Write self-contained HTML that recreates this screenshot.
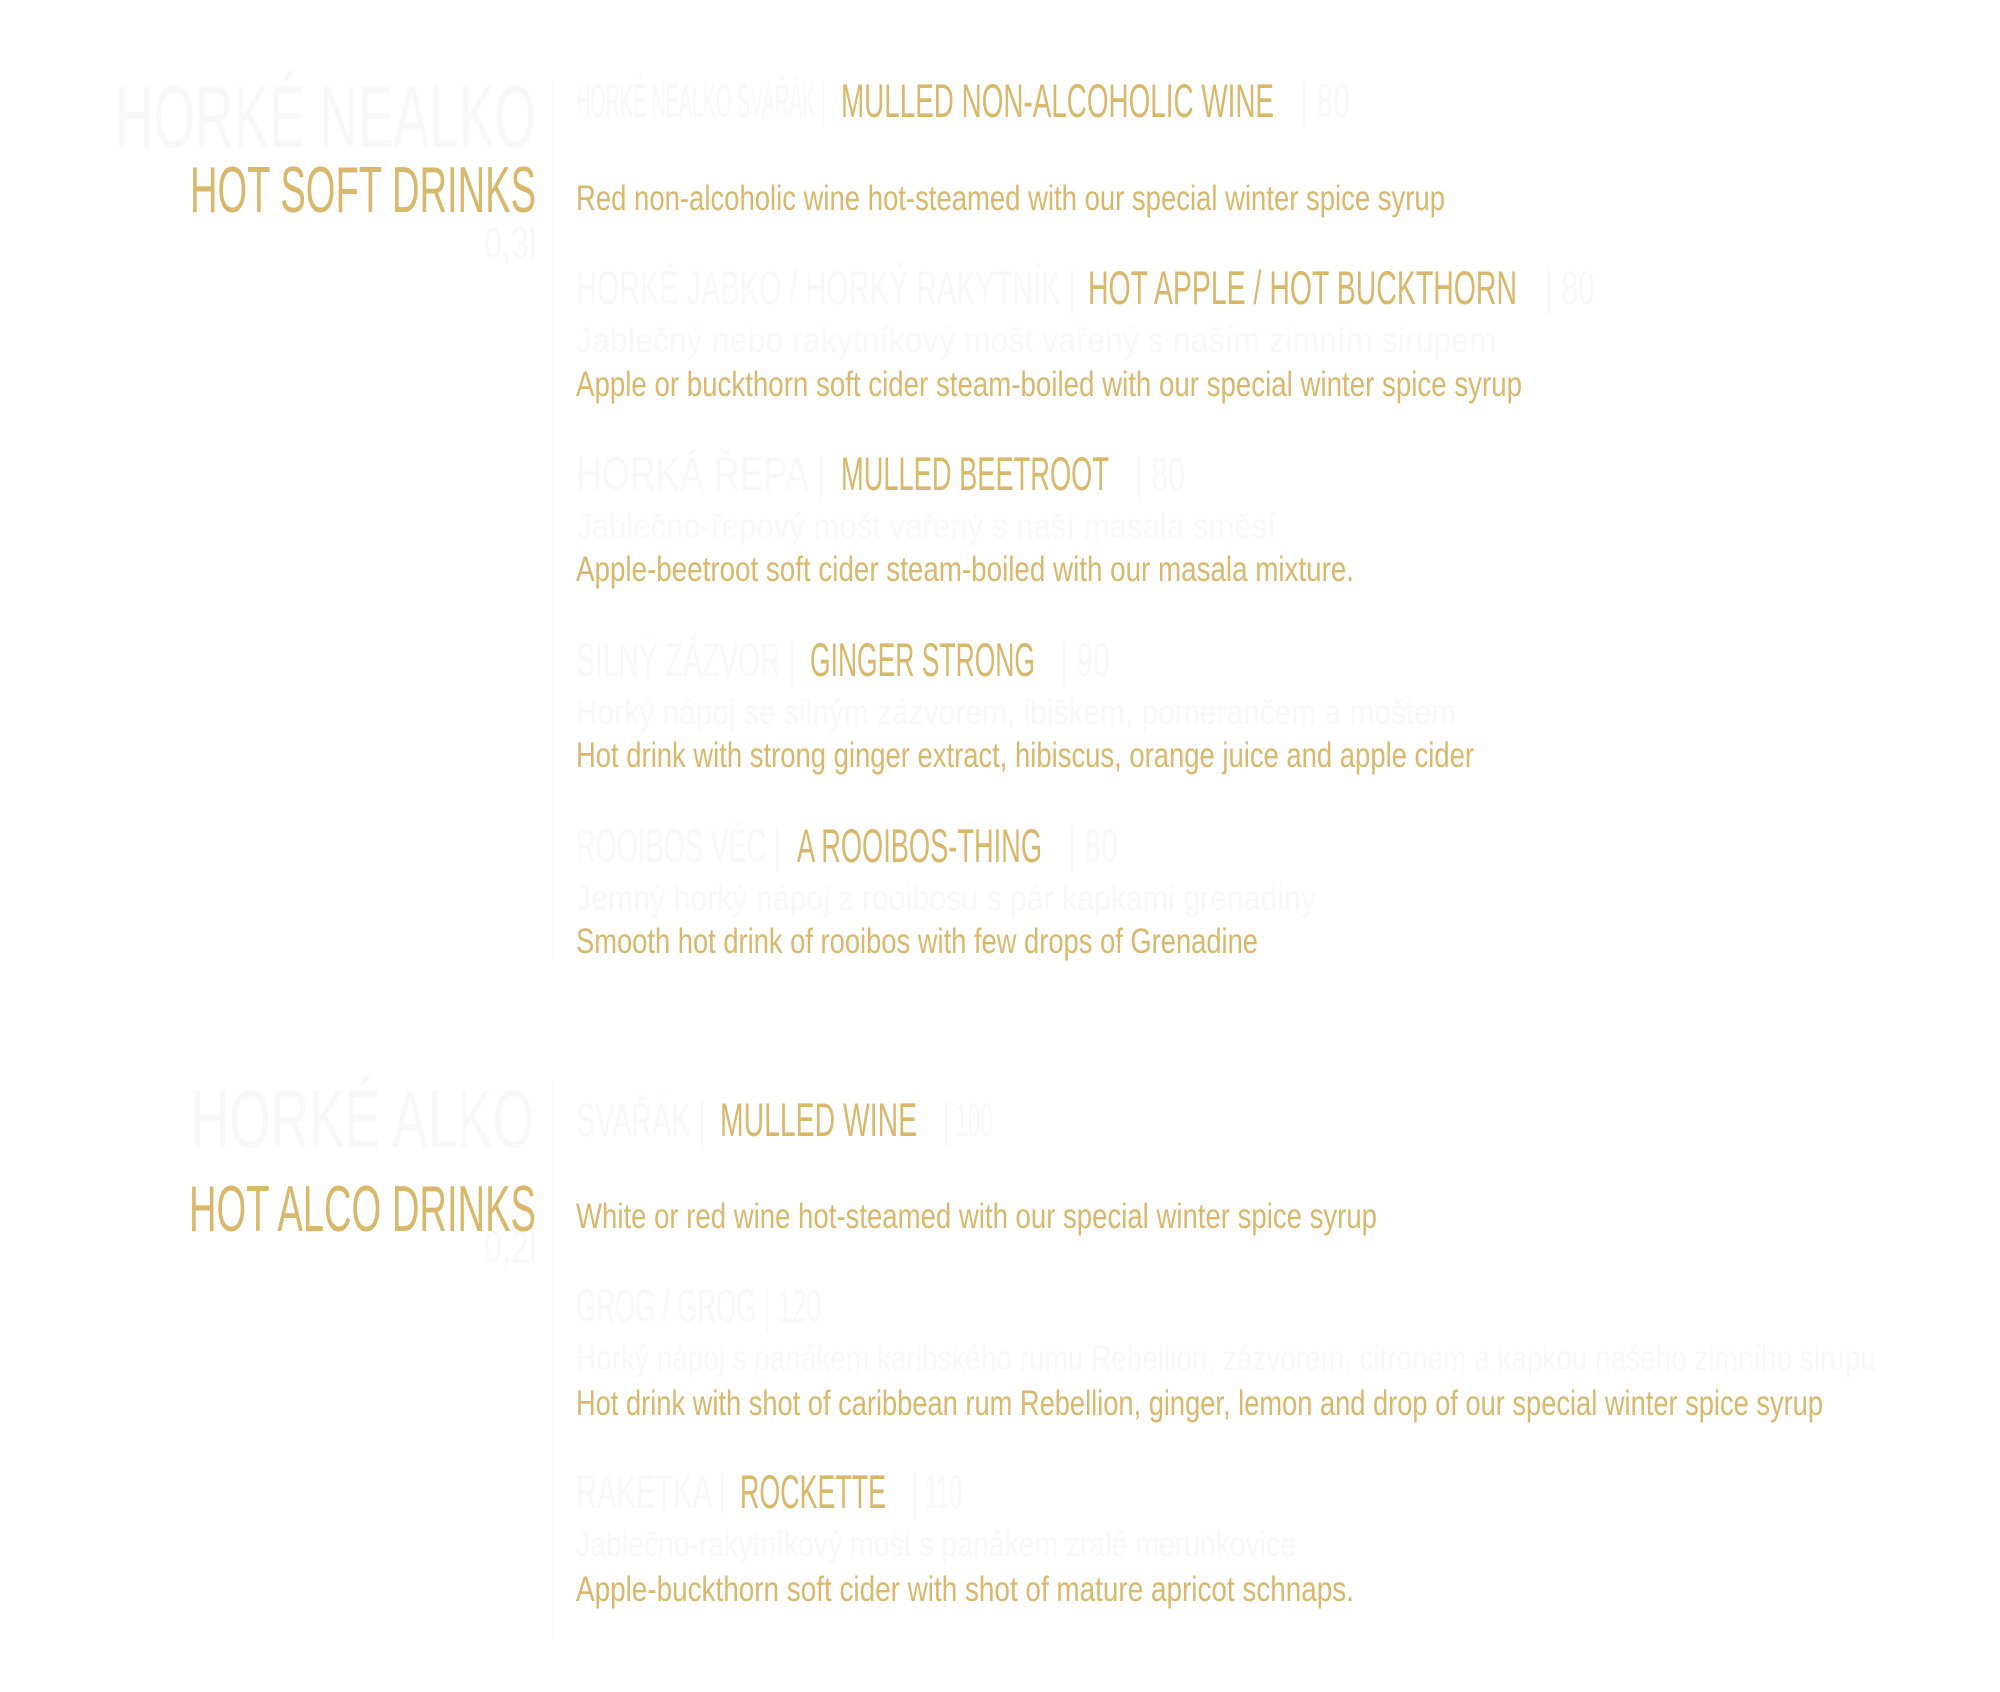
<!DOCTYPE html>
<html><head><meta charset="utf-8"><style>
html,body{margin:0;padding:0;background:#fff;}
svg{display:block}
text{font-family:"Liberation Sans Narrow","Liberation Sans",sans-serif;}
.g{fill:#d9b76b}
.f{fill:#f8f8f8}
</style></head><body>
<svg width="2000" height="1692" viewBox="0 0 2000 1692" xmlns="http://www.w3.org/2000/svg">
<text class="f" x="115" y="147" font-size="88" textLength="421" lengthAdjust="spacingAndGlyphs">HORKÉ NEALKO</text>
<text class="g" x="190" y="212" font-size="65" textLength="346" lengthAdjust="spacingAndGlyphs">HOT SOFT DRINKS</text>
<text class="f" x="484" y="258" font-size="44" textLength="52" lengthAdjust="spacingAndGlyphs">0,3l</text>
<rect x="552" y="80" width="2" height="880" fill="#fafafa"/>

<text class="f" x="576" y="117" font-size="47" textLength="250" lengthAdjust="spacingAndGlyphs">HORKÉ NEALKO SVAŘÁK |</text>
<text class="g" x="841" y="117" font-size="47" textLength="433" lengthAdjust="spacingAndGlyphs">MULLED NON-ALCOHOLIC WINE</text>
<text class="f" x="1300" y="117" font-size="47" textLength="50" lengthAdjust="spacingAndGlyphs">| 80</text>
<text class="g" x="576" y="210" font-size="35" textLength="869" lengthAdjust="spacingAndGlyphs">Red non-alcoholic wine hot-steamed with our special winter spice syrup</text>

<text class="f" x="576" y="304" font-size="47" textLength="500" lengthAdjust="spacingAndGlyphs">HORKÉ JABKO / HORKÝ RAKYTNÍK |</text>
<text class="g" x="1088" y="304" font-size="47" textLength="429" lengthAdjust="spacingAndGlyphs">HOT APPLE / HOT BUCKTHORN</text>
<text class="f" x="1545" y="304" font-size="47" textLength="50" lengthAdjust="spacingAndGlyphs">| 80</text>
<text class="f" x="576" y="352" font-size="35" textLength="920" lengthAdjust="spacingAndGlyphs">Jablečný nebo rakytníkový mošt vařený s naším zimním sirupem</text>
<text class="g" x="576" y="396" font-size="35" textLength="946" lengthAdjust="spacingAndGlyphs">Apple or buckthorn soft cider steam-boiled with our special winter spice syrup</text>

<text class="f" x="576" y="490" font-size="47" textLength="250" lengthAdjust="spacingAndGlyphs">HORKÁ ŘEPA |</text>
<text class="g" x="841" y="490" font-size="47" textLength="268" lengthAdjust="spacingAndGlyphs">MULLED BEETROOT</text>
<text class="f" x="1135" y="490" font-size="47" textLength="50" lengthAdjust="spacingAndGlyphs">| 80</text>
<text class="f" x="576" y="538" font-size="35" textLength="700" lengthAdjust="spacingAndGlyphs">Jablečno-řepový mošt vařený s naší masala směsí</text>
<text class="g" x="576" y="581" font-size="35" textLength="778" lengthAdjust="spacingAndGlyphs">Apple-beetroot soft cider steam-boiled with our masala mixture.</text>

<text class="f" x="576" y="676" font-size="47" textLength="220" lengthAdjust="spacingAndGlyphs">SILNÝ ZÁZVOR |</text>
<text class="g" x="810" y="676" font-size="47" textLength="225" lengthAdjust="spacingAndGlyphs">GINGER STRONG</text>
<text class="f" x="1060" y="676" font-size="47" textLength="50" lengthAdjust="spacingAndGlyphs">| 90</text>
<text class="f" x="576" y="724" font-size="35" textLength="880" lengthAdjust="spacingAndGlyphs">Horký nápoj se silným zázvorem, ibiškem, pomerančem a moštem</text>
<text class="g" x="576" y="767" font-size="35" textLength="898" lengthAdjust="spacingAndGlyphs">Hot drink with strong ginger extract, hibiscus, orange juice and apple cider</text>

<text class="f" x="576" y="862" font-size="47" textLength="205" lengthAdjust="spacingAndGlyphs">ROOIBOS VĚC |</text>
<text class="g" x="797" y="862" font-size="47" textLength="245" lengthAdjust="spacingAndGlyphs">A ROOIBOS-THING</text>
<text class="f" x="1068" y="862" font-size="47" textLength="50" lengthAdjust="spacingAndGlyphs">| 80</text>
<text class="f" x="576" y="910" font-size="35" textLength="740" lengthAdjust="spacingAndGlyphs">Jemný horký nápoj z rooibosu s pár kapkami grenadiny</text>
<text class="g" x="576" y="953" font-size="35" textLength="682" lengthAdjust="spacingAndGlyphs">Smooth hot drink of rooibos with few drops of Grenadine</text>

<text class="f" x="191" y="1147" font-size="82" textLength="343" lengthAdjust="spacingAndGlyphs">HORKÉ ALKO</text>
<text class="g" x="189" y="1231" font-size="65" textLength="347" lengthAdjust="spacingAndGlyphs">HOT ALCO DRINKS</text>
<text class="f" x="484" y="1262" font-size="44" textLength="52" lengthAdjust="spacingAndGlyphs">0,2l</text>
<rect x="552" y="1080" width="2" height="560" fill="#fafafa"/>

<text class="f" x="576" y="1136" font-size="47" textLength="130" lengthAdjust="spacingAndGlyphs">SVAŘÁK |</text>
<text class="g" x="720" y="1136" font-size="47" textLength="197" lengthAdjust="spacingAndGlyphs">MULLED WINE</text>
<text class="f" x="943" y="1136" font-size="47" textLength="50" lengthAdjust="spacingAndGlyphs">| 100</text>
<text class="g" x="576" y="1228" font-size="35" textLength="801" lengthAdjust="spacingAndGlyphs">White or red wine hot-steamed with our special winter spice syrup</text>

<text class="f" x="576" y="1322" font-size="47" textLength="245" lengthAdjust="spacingAndGlyphs">GROG / GROG | 120</text>
<text class="f" x="576" y="1370" font-size="35" textLength="1300" lengthAdjust="spacingAndGlyphs">Horký nápoj s panákem karibského rumu Rebellion, zázvorem, citronem a kapkou našeho zimního sirupu</text>
<text class="g" x="576" y="1415" font-size="35" textLength="1247" lengthAdjust="spacingAndGlyphs">Hot drink with shot of caribbean rum Rebellion, ginger, lemon and drop of our special winter spice syrup</text>

<text class="f" x="576" y="1508" font-size="47" textLength="150" lengthAdjust="spacingAndGlyphs">RAKETKA |</text>
<text class="g" x="740" y="1508" font-size="47" textLength="146" lengthAdjust="spacingAndGlyphs">ROCKETTE</text>
<text class="f" x="912" y="1508" font-size="47" textLength="50" lengthAdjust="spacingAndGlyphs">| 110</text>
<text class="f" x="576" y="1556" font-size="35" textLength="720" lengthAdjust="spacingAndGlyphs">Jablečno-rakytníkový mošt s panákem zralé meruňkovice</text>
<text class="g" x="576" y="1601" font-size="35" textLength="778" lengthAdjust="spacingAndGlyphs">Apple-buckthorn soft cider with shot of mature apricot schnaps.</text>
</svg>
</body></html>
